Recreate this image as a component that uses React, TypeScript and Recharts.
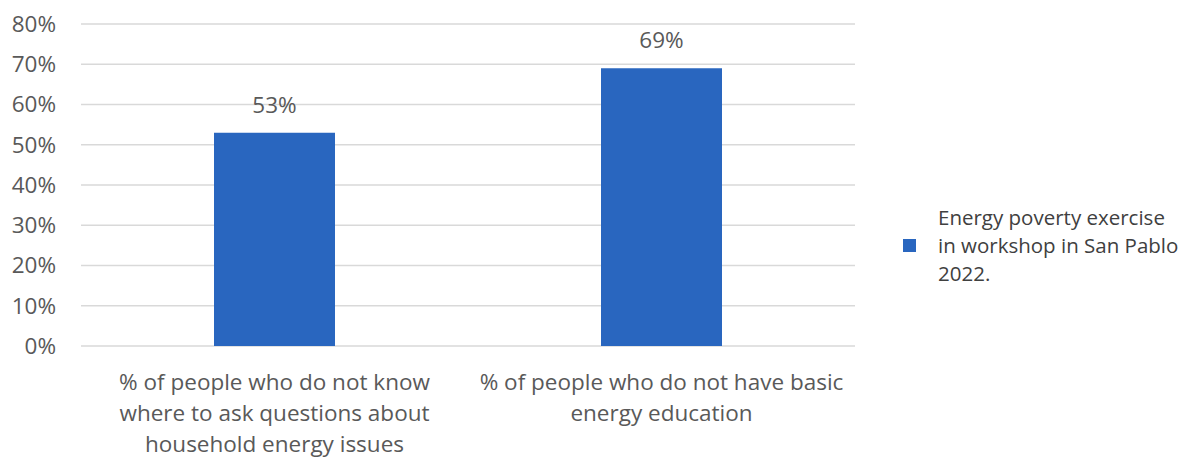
import { BarChart, Bar, XAxis, YAxis, CartesianGrid, LabelList } from 'recharts';

// categories (x axis), one line per entry in the label
const categories = [
  '% of people who do not know where to ask questions about household energy issues',
  '% of people who do not have basic energy education',
];
const categoryLines = [
  ['% of people who do not know', 'where to ask questions about', 'household energy issues'],
  ['% of people who do not have basic', 'energy education'],
];
const seriesValues = [53, 69];
const seriesName = 'Energy poverty exercise in workshop in San Pablo 2022.';
const legendLines = ['Energy poverty exercise', 'in workshop in San Pablo', '2022.'];
const yTicks = [0, 10, 20, 30, 40, 50, 60, 70, 80];

const data = categories.map((c, i) => ({ name: c, value: seriesValues[i] }));

const FONT = '"Open Sans", sans-serif';
const TEXT = '#595959';
const BLUE = '#2966bf';

const CategoryTick = ({ x, y, index }: any) => {
  const lines = categoryLines[index] || [];
  return (
    <text x={x} y={y} textAnchor="middle" fill={TEXT} fontFamily={FONT} fontSize={22.5}>
      {lines.map((l, i) => (
        <tspan key={i} x={x} dy={i === 0 ? 36 : 31}>{l}</tspan>
      ))}
    </text>
  );
};

const App = () => {
  return (
    <div style={{ position: 'absolute', left: 0, top: 0, width: 1183, height: 459, background: '#fff' }}>
      <BarChart width={1183} height={459} data={data} margin={{ top: 24, right: 328, bottom: 83, left: 0 }}>
        <CartesianGrid vertical={false} stroke="#d9d9d9" strokeWidth={1.5} />
        <XAxis dataKey="name" height={30} axisLine={false} tickLine={false} interval={0} tick={<CategoryTick />} />
        <YAxis
          width={81}
          domain={[0, 80]}
          ticks={yTicks}
          interval={0}
          axisLine={false}
          tickLine={false}
          tickMargin={19}
          tickFormatter={(v: number) => `${v}%`}
          tick={{ fill: TEXT, fontFamily: FONT, fontSize: 22.5 }}
        />
        <Bar dataKey="value" name={seriesName} fill={BLUE} barSize={121} isAnimationActive={false}>
          <LabelList
            dataKey="value"
            position="top"
            offset={20}
            formatter={(v: number) => `${v}%`}
            style={{ fill: TEXT, fontFamily: FONT, fontSize: 22.5 }}
          />
        </Bar>
      </BarChart>
      {/* series legend */}
      <div
        style={{
          position: 'absolute', left: 903, top: 203,
          display: 'flex', alignItems: 'center',
          fontFamily: FONT, fontSize: 20.5, color: '#404040',
        }}
      >
        <div style={{ width: 13, height: 13, background: BLUE, marginRight: 22 }} />
        <div style={{ lineHeight: '28px', whiteSpace: 'nowrap' }}>
          {legendLines.map((l, i) => <div key={i}>{l}</div>)}
        </div>
      </div>
    </div>
  );
};

export default App;
